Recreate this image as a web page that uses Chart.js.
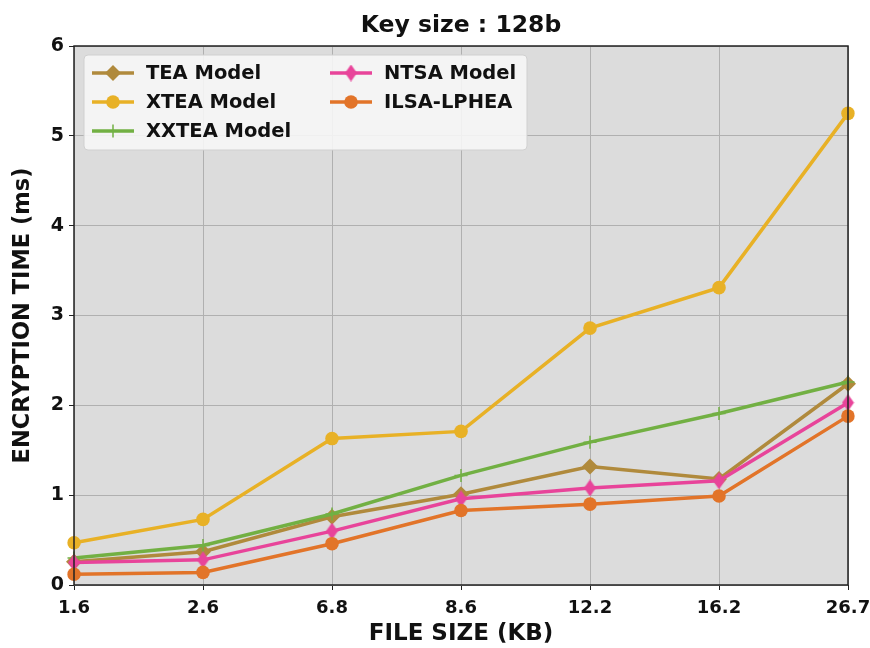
<!DOCTYPE html>
<html>
<head>
<meta charset="utf-8">
<script src="https://cdn.jsdelivr.net/npm/chart.js@4"></script>
<style>
  body { margin: 0; background: #fff; }
  #wrap { width: 870px; height: 648px; }
</style>
</head>
<body>
<div id="wrap"><canvas id="encChart"></canvas></div>
<script>
const chartTitle = 'Key size : 128b';
const fileSizes = ['1.6', '2.6', '6.8', '8.6', '12.2', '16.2', '26.7'];
const teaModel   = [0.26, 0.37, 0.76, 1.01, 1.32, 1.18, 2.24];
const xteaModel  = [0.47, 0.73, 1.63, 1.71, 2.86, 3.31, 5.25];
const xxteaModel = [0.30, 0.44, 0.79, 1.22, 1.59, 1.91, 2.26];
const ntsaModel  = [0.25, 0.28, 0.60, 0.96, 1.08, 1.16, 2.03];
const ilsaLphea  = [0.12, 0.14, 0.46, 0.83, 0.90, 0.99, 1.88];
const yTicks = [0, 1, 2, 3, 4, 5, 6];

const FONT = "'DejaVu Sans', sans-serif";

// thin diamond marker for NTSA (matplotlib 'd')
function thinDiamond(color) {
    const c = document.createElement('canvas');
    c.width = 13; c.height = 17;
    const g = c.getContext('2d');
    g.fillStyle = color;
    g.beginPath();
    g.moveTo(6.5, 0); g.lineTo(12.5, 8.5); g.lineTo(6.5, 17); g.lineTo(0.5, 8.5);
    g.closePath();
    g.fill();
    return c;
}

const colors = {
    tea: '#b08a3c',
    xtea: '#e8b126',
    xxtea: '#72b043',
    ntsa: '#e8449a',
    ilsa: '#e27429'
};

function series(label, data, color, style, radius, extra) {
    return Object.assign({
        label: label,
        data: data,
        borderColor: color,
        backgroundColor: color,
        pointBackgroundColor: color,
        pointBorderColor: color,
        borderWidth: 3.5,
        pointStyle: style,
        pointRadius: radius,
        pointHoverRadius: radius,
        pointBorderWidth: 0,
        tension: 0,
        fill: false
    }, extra || {});
}

const datasets = [
    series('TEA Model', teaModel, colors.tea, 'rectRot', 8),
    series('XTEA Model', xteaModel, colors.xtea, 'circle', 6.8),
    series('XXTEA Model', xxteaModel, colors.xxtea, 'cross', 6.5, { pointBorderWidth: 1.5 }),
    series('NTSA Model', ntsaModel, colors.ntsa, thinDiamond(colors.ntsa), 9),
    series('ILSA-LPHEA', ilsaLphea, colors.ilsa, 'circle', 6.8)
];
// later series on top, like the original
datasets.forEach((d, i) => { d.order = datasets.length - i; });

const plotFrame = {
    id: 'plotFrame',
    beforeDraw(chart) {
        const a = chart.chartArea, ctx = chart.ctx;
        ctx.save();
        ctx.fillStyle = '#dcdcdc';
        ctx.fillRect(a.left, a.top, a.right - a.left, a.bottom - a.top);
        ctx.restore();
    },
    afterDraw(chart) {
        const a = chart.chartArea, ctx = chart.ctx;
        ctx.save();
        ctx.strokeStyle = '#222';
        ctx.lineWidth = 1.5;
        ctx.strokeRect(a.left, a.top, a.right - a.left, a.bottom - a.top);

        // title centred over the plot area
        ctx.fillStyle = '#111';
        ctx.font = 'bold 23.5px ' + FONT;
        ctx.textAlign = 'center';
        ctx.textBaseline = 'middle';
        ctx.fillText(chartTitle, (a.left + a.right) / 2, 26);
        ctx.textAlign = 'left';

        // legend, two columns like matplotlib ncol=2
        const x0 = a.left + 10, y0 = a.top + 9;
        ctx.fillStyle = 'rgba(246,246,246,0.9)';
        ctx.strokeStyle = '#d0d0d0';
        ctx.lineWidth = 1;
        ctx.beginPath();
        ctx.roundRect(x0, y0, 443, 95, 4);
        ctx.fill();
        ctx.stroke();
        ctx.font = 'bold 19.5px ' + FONT;
        chart.data.datasets.forEach((ds, i) => {
            const col = i < 3 ? 0 : 1;
            const row = i < 3 ? i : i - 3;
            const lx = x0 + 8 + col * 238;
            const ly = y0 + 18 + row * 29;
            ctx.strokeStyle = ds.borderColor;
            ctx.fillStyle = ds.backgroundColor;
            ctx.lineWidth = 3.5;
            ctx.beginPath();
            ctx.moveTo(lx, ly); ctx.lineTo(lx + 42, ly);
            ctx.stroke();
            ctx.lineWidth = ds.pointBorderWidth || 0.01;
            Chart.helpers.drawPoint(ctx, {
                pointStyle: ds.pointStyle,
                radius: ds.pointRadius,
                borderWidth: ds.pointBorderWidth,
                rotation: 0
            }, lx + 21, ly);
            ctx.fillStyle = '#111';
            ctx.fillText(ds.label, lx + 54, ly + 1);
        });
        ctx.restore();
    }
};

Chart.defaults.font.family = FONT;
Chart.defaults.color = '#111';

new Chart(document.getElementById('encChart'), {
    type: 'line',
    data: { labels: fileSizes, datasets: datasets },
    options: {
        responsive: true,
        maintainAspectRatio: false,
        animation: false,
        layout: { padding: { left: 0, right: 22, top: 46, bottom: 0 } },
        plugins: {
            legend: { display: false },
            tooltip: { enabled: false },
            title: { display: false }
        },
        scales: {
            x: {
                type: 'category',
                offset: false,
                grid: { color: '#b0b0b0', lineWidth: 1, tickColor: '#222', tickLength: 5 },
                border: { display: false },
                ticks: { font: { size: 18, weight: 'bold' }, color: '#111', maxRotation: 0, padding: 8 },
                title: {
                    display: true,
                    text: 'FILE SIZE (KB)',
                    font: { size: 23, weight: 'bold' },
                    color: '#111',
                    padding: { top: 0, bottom: 0 }
                },
                afterFit(scale) {
                    scale.height = 63;
                    scale.paddingLeft = 0;
                    scale.paddingRight = 0;
                }
            },
            y: {
                min: 0,
                max: 6,
                afterBuildTicks(scale) { scale.ticks = yTicks.map(v => ({ value: v })); },
                grid: { color: '#b0b0b0', lineWidth: 1, tickColor: '#222', tickLength: 5 },
                border: { display: false },
                ticks: { font: { size: 19, weight: 'bold' }, color: '#111', padding: 5 },
                title: {
                    display: true,
                    text: 'ENCRYPTION TIME (ms)',
                    font: { size: 22.5, weight: 'bold' },
                    color: '#111',
                    padding: { top: 10, bottom: 0 }
                },
                afterFit(scale) {
                    scale.width = 74;
                    scale.paddingTop = 0;
                    scale.paddingBottom = 0;
                }
            }
        }
    },
    plugins: [plotFrame]
});
</script>
</body>
</html>
